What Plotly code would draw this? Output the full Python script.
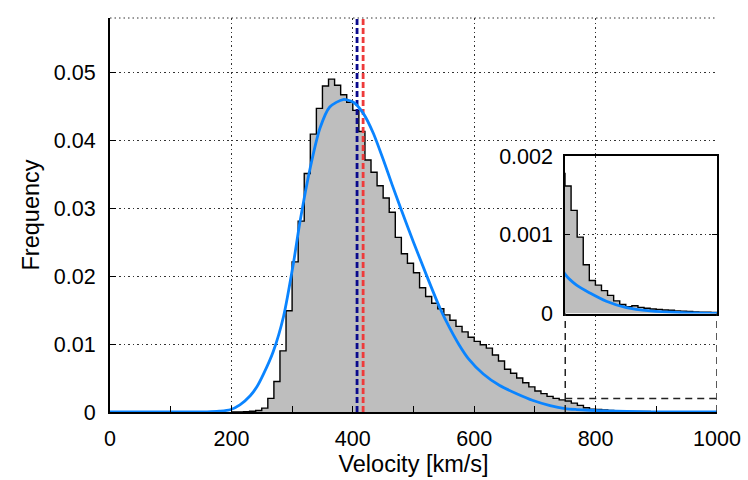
import plotly.graph_objects as go

# ---------------- data ----------------
bin_width = 10
bin_left = list(range(200, 1000, 10))
freq = [
    0.0, 0.00002, 0.00004, 0.0001, 0.00022, 0.00057, 0.0020, 0.0045, 0.0090, 0.0149,   # 200-290
    0.0221, 0.0281, 0.0351, 0.0409, 0.0447, 0.0480, 0.0490, 0.0481, 0.0467, 0.0456,    # 300-390
    0.0444, 0.0413, 0.0371, 0.0353, 0.0333, 0.0315, 0.0294, 0.0257, 0.0233, 0.0219,    # 400-490
    0.0205, 0.0183, 0.0170, 0.0160, 0.0152, 0.0143, 0.0135, 0.0126, 0.0118, 0.0110,    # 500-590
    0.0104, 0.0099, 0.0094, 0.0084, 0.0075, 0.0063, 0.0057, 0.0050, 0.0043, 0.0037,    # 600-690
    0.0031, 0.0027, 0.0023, 0.0020, 0.00178, 0.00162, 0.00131, 0.00097, 0.00062, 0.00042,  # 700-790
    0.00036, 0.00029, 0.00023, 0.00016, 0.000115, 0.000086, 0.000099, 0.000078, 0.000066, 0.000058,  # 800-890
    0.000053, 0.000045, 0.000041, 0.000033, 0.000029, 0.000025, 0.00002, 0.000016, 0.000016, 0.000012,  # 900-990
]

fit_v = [0, 120, 140, 160, 180, 198, 214, 231, 242, 253, 269, 286, 302, 313, 330, 346, 362, 384,
         401, 417, 434, 450, 465, 478, 500, 522, 544, 560, 575, 590, 615, 642, 670, 697, 725, 750,
         769, 791, 818, 851, 890, 944, 1000]
fit_f = [0, 0, 0.000005, 0.00003, 0.00012, 0.00033, 0.00105, 0.0024, 0.0037, 0.0056, 0.0089,
         0.0141, 0.0218, 0.0280, 0.0360, 0.0418, 0.0449, 0.0460, 0.0456, 0.0440, 0.0410, 0.0372,
         0.0334, 0.0302, 0.0250, 0.0200, 0.0152, 0.0123, 0.0099, 0.0079, 0.0056, 0.0039, 0.0027,
         0.0017, 0.00095, 0.0005, 0.00036, 0.00026, 0.000156, 0.000074, 0.000033, 0.00001, 0]

median_v = 407
mean_v = 417

x_ticks = [0, 200, 400, 600, 800, 1000]
y_ticks = [0, 0.01, 0.02, 0.03, 0.04, 0.05]
y_tick_text = ["0", "0.01", "0.02", "0.03", "0.04", "0.05"]
inset_y_ticks = [0, 0.001, 0.002]
inset_y_text = ["0", "0.001", "0.002"]

x_range = [0, 1000]
y_range = [0, 0.058]
inset_x_range = [750, 1000]
inset_y_range = [0, 0.002]

# ---------------- figure ----------------
FONT = "Liberation Sans, Arial, sans-serif"
GRAY = "#bebebe"
BLUE = "#0a84ff"
NAVY = "#0a0a8c"
RED = "#ee3b3b"
FS = 21.5
FS_TITLE = 23.5

step_x = bin_left + [bin_left[-1] + bin_width]
step_y = freq + [freq[-1]]

fig = go.Figure()

for xa, ya in (("x", "y"), ("x2", "y2")):
    fig.add_trace(go.Scatter(x=step_x, y=step_y, xaxis=xa, yaxis=ya, mode="lines",
                             line=dict(shape="hv", color="black", width=1.4),
                             fill="tozeroy", fillcolor=GRAY, hoverinfo="skip", showlegend=False))

fig.add_trace(go.Scatter(x=[median_v, median_v], y=y_range, mode="lines",
                         line=dict(color=NAVY, width=2.8, dash="6px,3px"), showlegend=False))
fig.add_trace(go.Scatter(x=[mean_v, mean_v], y=y_range, mode="lines",
                         line=dict(color=RED, width=2.8, dash="6px,3px"), showlegend=False))

for xa, ya in (("x", "y"), ("x2", "y2")):
    fig.add_trace(go.Scatter(x=fit_v, y=fit_f, xaxis=xa, yaxis=ya, mode="lines",
                             line=dict(color=BLUE, width=2.8, shape="spline", smoothing=0.7),
                             hoverinfo="skip", showlegend=False))

grid = dict(showgrid=True, gridcolor="#333333", gridwidth=1, griddash="1.5px,3px")
inset_dom_x = [0.7496, 1.0]
inset_dom_y = [0.25, 0.6497]

fig.update_layout(
    width=748, height=480,
    margin=dict(l=110, r=31, t=7, b=68),
    paper_bgcolor="white", plot_bgcolor="white",
    font=dict(family=FONT, size=FS, color="black"),
    xaxis=dict(range=x_range, tickvals=x_ticks, ticks="inside", ticklen=6, tickwidth=1.2,
               tickcolor="black", showline=True, linecolor="black", linewidth=2,
               minor=dict(dtick=100, ticks="inside", ticklen=6, tickwidth=1.2, tickcolor="black",
                          showgrid=False),
               zeroline=False, ticklabelstandoff=6,
               title=dict(text="Velocity [km/s]", standoff=2, font=dict(size=FS_TITLE)), **grid),
    yaxis=dict(range=y_range, tickvals=y_ticks, ticktext=y_tick_text, ticks="inside", ticklen=6,
               tickwidth=1.2, tickcolor="black", showline=True, linecolor="black", linewidth=2,
               zeroline=False, ticklabelstandoff=8,
               title=dict(text="Frequency", standoff=8, font=dict(size=FS_TITLE)), **grid),
    xaxis2=dict(domain=inset_dom_x, anchor="y2", range=inset_x_range, dtick=200, tick0=0,
                showticklabels=False, ticks="", showline=True, mirror=True, linecolor="black",
                linewidth=1.5, zeroline=False, **grid),
    yaxis2=dict(domain=inset_dom_y, anchor="x2", range=inset_y_range, tickvals=inset_y_ticks,
                ticktext=inset_y_text, ticks="inside", ticklen=5, tickcolor="black",
                showline=True, mirror="ticks", linecolor="black", linewidth=1.5, zeroline=False,
                ticklabelstandoff=6, **grid),
)

# top border of main plot (dotted)
fig.add_shape(type="line", xref="x", yref="paper", x0=x_range[0], x1=x_range[1], y0=1, y1=1,
              line=dict(color="#333333", width=1, dash="1.5px,3px"))
# zoom-region box and connectors
dash_line = dict(color="#222222", width=1.5, dash="7px,5px")
fig.add_shape(type="line", xref="x", yref="y", x0=inset_x_range[0], x1=inset_x_range[1],
              y0=inset_y_range[1], y1=inset_y_range[1], line=dash_line)
for xv in inset_x_range:
    fig.add_shape(type="line", xref="x", yref="paper", x0=xv, x1=xv, y0=0, y1=inset_dom_y[0],
                  line=dash_line)

fig.write_html("out.html")
